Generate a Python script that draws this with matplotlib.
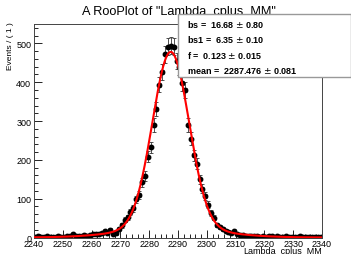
import numpy as np
import matplotlib
matplotlib.use('Agg')
import matplotlib.pyplot as plt
from matplotlib.patches import Rectangle
from matplotlib.ticker import MultipleLocator

# ---- data (counts per 1 MeV bin, 2240..2340) ----
x_lo = 2240
x_hi = 2340
counts = [2, 3, 1, 2, 4, 1, 2, 1, 3, 2,
          2, 3, 5, 9, 4, 3, 5, 6, 5, 7,
          9, 8, 10, 11, 16, 12, 20, 8, 11, 22,
          31, 46, 52, 66, 75, 98, 110, 142, 158, 208,
          232, 290, 330, 394, 426, 472, 492, 494, 492, 455,
          440, 397, 380, 290, 255, 212, 190, 150, 126, 107,
          85, 64, 51, 32, 27, 22, 18, 15, 12, 16,
          8, 7, 6, 5, 5, 4, 3, 4, 2, 3,
          2, 4, 3, 2, 3, 2, 1, 3, 2, 2,
          1, 2, 3, 2, 1, 2, 1, 2, 1, 2]

# fit parameters
bs = 16.68
bs1 = 6.35
frac = 0.123
mean = 2287.476
stat_lines = ["bs =  16.68 $\\pm$ 0.80",
              "bs1 =  6.35 $\\pm$ 0.10",
              "f =  0.123 $\\pm$ 0.015",
              "mean =  2287.476 $\\pm$ 0.081"]

plt.rcParams['font.family'] = ['Liberation Sans', 'DejaVu Sans']

W, H = 351, 255
fig = plt.figure(figsize=(W / 100, H / 100), dpi=100)
L, R, B, T = 34, 322, 238.5, 25
ax = fig.add_axes([L / W, 1 - B / H, (R - L) / W, (B - T) / H])

counts = np.array(counts, dtype=float)
nb = len(counts)
edges = np.linspace(x_lo, x_hi, nb + 1)
centers = 0.5 * (edges[:-1] + edges[1:])
bw = edges[1] - edges[0]
err = np.sqrt(counts)

ax.errorbar(centers, counts, yerr=err, xerr=0.5 * bw, fmt='o', color='black',
            ms=3.2, elinewidth=0.6, capsize=1.2, capthick=0.6, ecolor='#333333', zorder=2)

# model curve: double gaussian normalised to data
xx = np.linspace(x_lo, x_hi, 800)
def gauss(x, m, s):
    return np.exp(-0.5 * ((x - m) / s) ** 2) / (np.sqrt(2 * np.pi) * s)
Ntot = counts.sum()
model = Ntot * bw * ((1 - frac) * gauss(xx, mean, bs1) + frac * gauss(xx, mean, bs))
ax.plot(xx, model, color='red', lw=1.5, zorder=3)

ax.set_xlim(x_lo, x_hi)
ax.set_ylim(0, 550)
ax.xaxis.set_major_locator(MultipleLocator(10))
ax.xaxis.set_minor_locator(MultipleLocator(2))
ax.yaxis.set_major_locator(MultipleLocator(100))
ax.yaxis.set_minor_locator(MultipleLocator(20))
ax.tick_params(which='both', direction='in', labelsize=6.5, width=0.6)
ax.tick_params(axis='x', pad=1)
ax.tick_params(axis='y', pad=2)
ax.tick_params(which='major', length=6)
ax.tick_params(which='minor', length=3)
for s in ax.spines.values():
    s.set_linewidth(0.7)
    s.set_color('#444444')

fig.text(0.51, 1 - 12 / H, 'A RooPlot of "Lambda_cplus_MM"', ha='center', va='center', fontsize=9.2)
fig.text(R / W, 1 - 251.5 / H, 'Lambda_cplus_MM', ha='right', va='center', fontsize=6.5)
fig.text(11 / W, 1 - 22 / H, 'Events / ( 1 )', ha='center', va='top', rotation=90, fontsize=6)

# stats box
bx0, by0, bx1, by1 = 178, 15, 351, 78
rect = Rectangle((bx0 / W, 1 - by1 / H), (bx1 - bx0) / W, (by1 - by0) / H,
                 transform=fig.transFigure, facecolor='white', edgecolor='#999999',
                 lw=1.0, zorder=10)
fig.add_artist(rect)
for i, line in enumerate(stat_lines):
    ty = 24 + i * 15.8
    fig.text(187 / W, 1 - ty / H, line, ha='left', va='center', fontsize=6.5,
             fontweight='bold', zorder=11)

fig.savefig('out.png', dpi=100)
